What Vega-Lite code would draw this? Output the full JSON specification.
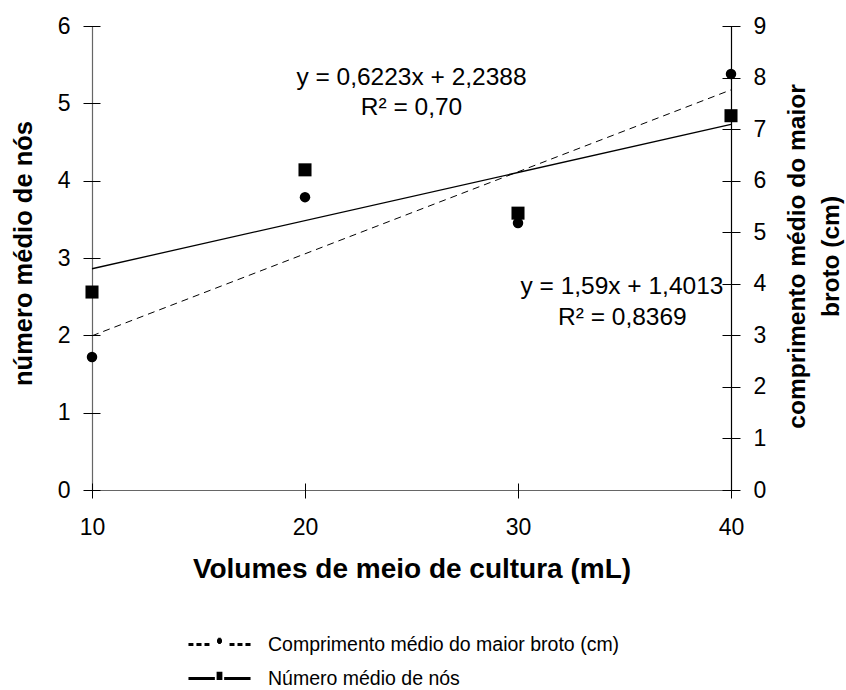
{
  "$schema": "https://vega.github.io/schema/vega-lite/v6.json",
  "width": 639,
  "height": 464,
  "autosize": {"type": "none"},
  "padding": {"left": 92, "top": 26, "right": 115, "bottom": 200},
  "background": "white",
  "config": {
    "font": "Liberation Sans",
    "view": {"stroke": null},
    "axis": {
      "labelFont": "Liberation Sans",
      "titleFont": "Liberation Sans",
      "labelColor": "black",
      "titleColor": "black",
      "tickColor": "black",
      "tickWidth": 1,
      "domain": false,
      "labelFontSize": 23,
      "labelFlush": false,
      "labelOverlap": false,
      "labelFontWeight": "normal"
    },
    "legend": {
      "title": null,
      "orient": "none",
      "legendX": 116,
      "legendY": 607,
      "padding": 0,
      "symbolSize": 428,
      "symbolOpacity": 1,
      "symbolStrokeColor": "black",
      "symbolStrokeWidth": 2,
      "rowPadding": 13,
      "labelOffset": 37,
      "labelFontSize": 19.5,
      "labelFont": "Liberation Sans",
      "labelColor": "black",
      "labelLimit": 0
    }
  },
  "datasets": {
    "nos": [
      {"vol": 10, "serie": "Número médio de nós", "v": 2.56},
      {"vol": 20, "serie": "Número médio de nós", "v": 4.14},
      {"vol": 30, "serie": "Número médio de nós", "v": 3.58},
      {"vol": 40, "serie": "Número médio de nós", "v": 4.84}
    ],
    "comp": [
      {"vol": 10, "serie": "Comprimento médio do maior broto (cm)", "v": 2.58},
      {"vol": 20, "serie": "Comprimento médio do maior broto (cm)", "v": 5.68},
      {"vol": 30, "serie": "Comprimento médio do maior broto (cm)", "v": 5.18},
      {"vol": 40, "serie": "Comprimento médio do maior broto (cm)", "v": 8.07}
    ],
    "trend_nos": [
      {"vol": 10, "v": 2.8611},
      {"vol": 40, "v": 4.728}
    ],
    "trend_comp": [
      {"vol": 10, "v": 2.9913},
      {"vol": 40, "v": 7.7613}
    ],
    "eq": [
      {"vol": 25, "v": 5.33, "txt": "y = 0,6223x + 2,2388"},
      {"vol": 25, "v": 4.94, "txt": "R² = 0,70"},
      {"vol": 34.88, "v": 2.625, "txt": "y = 1,59x + 1,4013"},
      {"vol": 34.9, "v": 2.224, "txt": "R² = 0,8369"}
    ]
  },
  "layer": [
    {
      "layer": [
        {
          "data": {"name": "trend_nos"},
          "mark": {"type": "line", "color": "black", "strokeWidth": 1.3},
          "encoding": {
            "x": {
              "field": "vol", "type": "quantitative",
              "scale": {"domain": [10, 40], "nice": false, "zero": false},
              "axis": {
                "orient": "bottom",
                "values": [10, 20, 30, 40],
                "format": "d",
                "offset": -7,
                "tickSize": 15,
                "labelPadding": 18,
                "title": "Volumes de meio de cultura (mL)",
                "titleFontSize": 28,
                "titleFontWeight": "bold",
                "titlePadding": 16,
                "grid": true,
                "gridColor": {"condition": {"test": "datum.value === 40", "value": "black"}, "value": "#666"},
                "gridOpacity": {"condition": {"test": "datum.value === 10 || datum.value === 40", "value": 1}, "value": 0},
                "gridWidth": 1.2
              }
            },
            "y": {
              "field": "v", "type": "quantitative",
              "scale": {"domain": [0, 6], "nice": false, "zero": true},
              "axis": {
                "orient": "left",
                "values": [0, 1, 2, 3, 4, 5, 6],
                "format": "d",
                "offset": -8,
                "tickSize": 17,
                "labelPadding": 13,
                "title": "número médio de nós",
                "titleFontSize": 25.5,
                "titleFontWeight": "bold",
                "titleAngle": -90,
                "titleBaseline": "alphabetic",
                "titleX": -69,
                "titleY": 227,
                "grid": true,
                "gridColor": "#666",
                "gridWidth": 1.2,
                "gridOpacity": {"condition": {"test": "datum.value === 0", "value": 1}, "value": 0}
              }
            }
          }
        },
        {
          "data": {"name": "nos"},
          "mark": {"type": "point", "filled": true, "color": "black", "shape": "square", "size": 170, "opacity": 1},
          "encoding": {
            "x": {"field": "vol", "type": "quantitative"},
            "y": {"field": "v", "type": "quantitative"}
          }
        },
        {
          "data": {"name": "nos"},
          "mark": {"type": "point", "filled": false, "color": "black", "strokeWidth": 2, "size": 428, "opacity": 0},
          "encoding": {
            "x": {"field": "vol", "type": "quantitative"},
            "y": {"field": "v", "type": "quantitative"},
            "shape": {
              "field": "serie", "type": "nominal",
              "scale": {
                "domain": ["Comprimento médio do maior broto (cm)", "Número médio de nós"],
                "range": [
                  "M-3,-0.05L-2.52,-0.05M-3,0.05L-2.52,0.05M-2.23,-0.05L-1.74,-0.05M-2.23,0.05L-1.74,0.05M-1.45,-0.05L-0.97,-0.05M-1.45,0.05L-0.97,0.05M0.97,-0.05L1.45,-0.05M0.97,0.05L1.45,0.05M1.74,-0.05L2.22,-0.05M1.74,0.05L2.22,0.05M2.51,-0.05L3,-0.05M2.51,0.05L3,0.05M-0.13,-0.55L0.13,-0.55M-0.22,-0.45L0.22,-0.45M-0.24,-0.35L0.24,-0.35M-0.22,-0.25L0.22,-0.25M-0.13,-0.15L0.13,-0.15",
                  "M-3,-0.05L-0.45,-0.05M-3,0.05L-0.45,0.05M0.45,-0.05L3,-0.05M0.45,0.05L3,0.05M-0.28,-0.55L0.28,-0.55M-0.28,-0.45L0.28,-0.45M-0.28,-0.35L0.28,-0.35M-0.28,-0.25L0.28,-0.25M-0.28,-0.15L0.28,-0.15M-0.28,-0.05L0.28,-0.05M-0.28,0.05L0.28,0.05"
                ]
              },
              "legend": {"symbolOpacity": 1}
            }
          }
        },
        {
          "data": {"name": "eq"},
          "mark": {"type": "text", "fontSize": 24.5, "font": "Liberation Sans", "color": "black", "align": "center", "baseline": "middle"},
          "encoding": {
            "x": {"field": "vol", "type": "quantitative"},
            "y": {"field": "v", "type": "quantitative"},
            "text": {"field": "txt", "type": "nominal"}
          }
        }
      ]
    },
    {
      "layer": [
        {
          "data": {"name": "trend_comp"},
          "mark": {"type": "line", "color": "black", "strokeWidth": 1, "strokeDash": [7, 5]},
          "encoding": {
            "x": {"field": "vol", "type": "quantitative"},
            "y": {
              "field": "v", "type": "quantitative",
              "scale": {"domain": [0, 9], "nice": false, "zero": true},
              "axis": {
                "orient": "right",
                "values": [0, 1, 2, 3, 4, 5, 6, 7, 8, 9],
                "format": "d",
                "offset": -9,
                "tickSize": 18,
                "labelPadding": 13,
                "title": ["comprimento médio do maior", "broto (cm)"],
                "titleFontSize": 24.5,
                "titleFontWeight": "bold",
                "titleAngle": -90,
                "titleBaseline": "alphabetic",
                "titleLineHeight": 34,
                "titleX": 82,
                "titleY": 230,
                "grid": false
              }
            }
          }
        },
        {
          "data": {"name": "comp"},
          "mark": {"type": "point", "filled": true, "color": "black", "shape": "circle", "size": 110, "opacity": 1},
          "encoding": {
            "x": {"field": "vol", "type": "quantitative"},
            "y": {"field": "v", "type": "quantitative"}
          }
        }
      ]
    }
  ],
  "resolve": {"scale": {"y": "independent"}}
}
